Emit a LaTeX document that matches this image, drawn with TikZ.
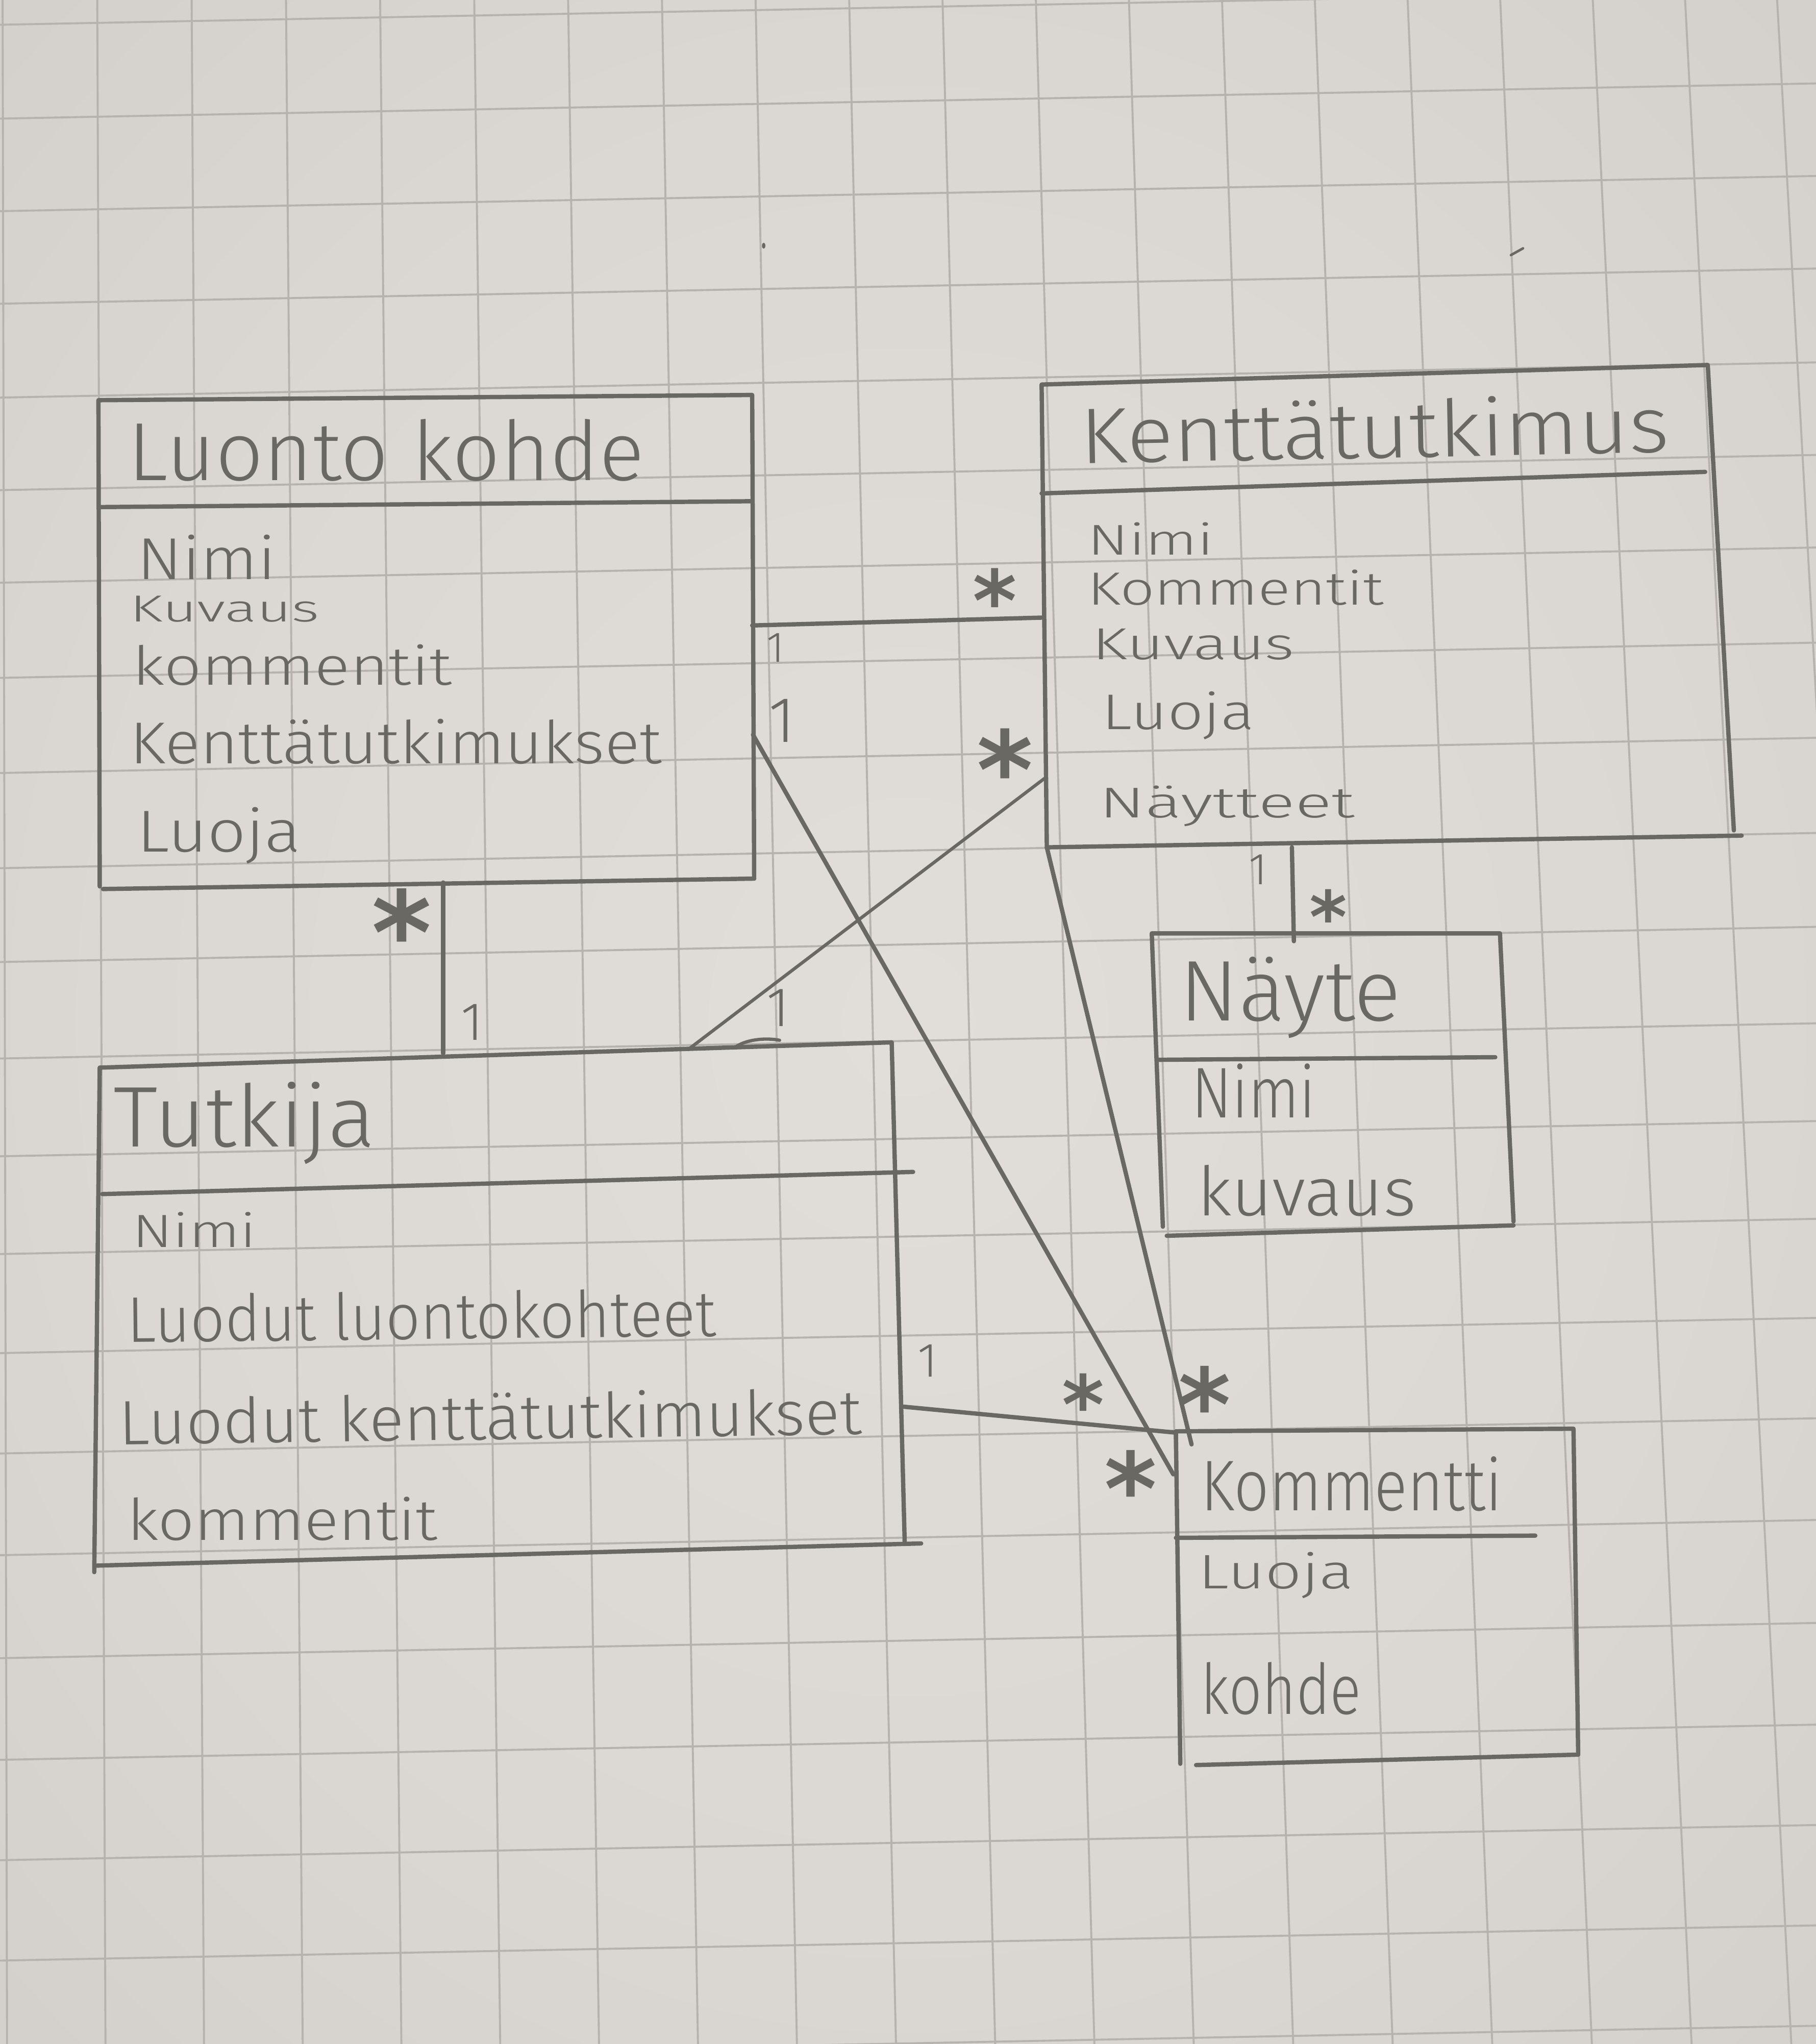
\documentclass[tikz,border=0pt]{standalone}
\usepackage{fontspec}
\usepackage{graphicx}
\setmainfont{Fira Sans Light}
\newfontfamily\starfont{DejaVu Sans}
\newlength\unitpx
\setlength\unitpx{0.02555cm}
\newcommand\hw[3]{\resizebox{#2\unitpx}{\height}{\fontsize{#1pt}{#1pt}\selectfont #3}}
\newcommand\mystar[1]{{\starfont\bfseries\fontsize{#1pt}{#1pt}\selectfont\raisebox{-0.51em}[0.19em][0.19em]{*}}}
\newcommand\myone[1]{{\fontsize{#1pt}{#1pt}\selectfont 1}}
\definecolor{paperA}{RGB}{225,222,218}
\definecolor{paperB}{RGB}{219,216,211}
\definecolor{paperC}{RGB}{208,204,200}
\definecolor{paperD}{RGB}{196,192,188}
\definecolor{gridc}{RGB}{182,178,174}
\definecolor{pencil}{RGB}{106,104,99}
\pgfdeclareradialshading{paperglow}{\pgfpoint{0bp}{0bp}}{color(0bp)=(paperA); color(22bp)=(paperB); color(42bp)=(paperC); color(70bp)=(paperD)}
\begin{document}
\begin{tikzpicture}[x=0.02555cm, y=-0.02555cm, line cap=round, line join=round,
  pen/.style={draw=pencil, line width=2.4pt},
  thinpen/.style={draw=pencil, line width=1.8pt},
  gridline/.style={draw=gridc, line width=1.1pt},
  txt/.style={inner sep=0pt, anchor=base west, text=pencil},
  mult/.style={inner sep=0pt, anchor=center, text=pencil}]

\useasboundingbox (0,0) rectangle (1393,1568);
\shade[shading=paperglow] (0,0) rectangle (1393,1568);

% graph paper grid
\foreach \xt/\xb in {2/5.4, 74.6/80.9, 147/156.5, 219.4/232.2, 291.6/307.9, 363.8/383.7,
  435.8/459.5, 507.8/535.4, 579.6/611.3, 651.4/687.3, 723/763.4, 794.6/839.5, 866/915.7,
  937.4/992, 1008.6/1068.3, 1079.8/1144.7, 1150.8/1221.1, 1221.8/1297.6, 1292.6/1374.1, 1363.2/1450.7}
  \draw[gridline] (\xt,0) -- (\xb,1568);
\foreach \yl in {19, 91, 162, 233, 305, 376, 447, 520, 593, 666, 738, 812, 887, 962, 1038,
  1115, 1193, 1272, 1350, 1427, 1504, 1581}
  \draw[gridline] (0,\yl) -- (1393,\yl-27);

% ---------- Luontokohde ----------
\coordinate (lkA) at (75.5,307);
\coordinate (lkB) at (577,303);
\coordinate (lkC) at (578.5,674);
\coordinate (lkD) at (76.5,680);
\coordinate (lkE) at (79,682);
\coordinate (lkS1) at (76,389);
\coordinate (lkS2) at (577,384.5);
\draw[pen] (lkD) -- (lkA) -- (lkB) -- (lkC);
\draw[pen] (lkE) -- (lkC);
\draw[pen] (lkS1) -- (lkS2);
\node[txt] (lkT) at (97.8,368.5) {\hw{46}{396}{Luonto kohde}};
\node[txt] (lk1) at (104.7,444.3) {\hw{33}{107}{Nimi}};
\node[txt] (lk2) at (99.5,477) {\hw{21}{145}{Kuvaus}};
\node[txt] (lk3) at (101.2,525.4) {\hw{30}{245}{kommentit}};
\node[txt] (lk4) at (99.5,585.6) {\hw{33}{408}{Kenttätutkimukset}};
\node[txt] (lk5) at (104.7,653.6) {\hw{33}{126}{Luoja}};

% ---------- Kenttätutkimus ----------
\coordinate (ktA) at (799,295);
\coordinate (ktB) at (1310,280);
\coordinate (ktC) at (1330,637);
\coordinate (ktD) at (803,650);
\coordinate (ktE) at (1336,641);
\coordinate (ktS1) at (799,378.5);
\coordinate (ktS2) at (1308,362);
\draw[pen] (ktD) -- (ktA) -- (ktB) -- (ktC);
\draw[pen] (ktD) -- (ktE);
\draw[pen] (ktS1) -- (ktS2);
\node[txt, rotate=1.1] (ktT) at (828.7,355.6) {\hw{44}{452}{Kenttätutkimus}};
\node[txt] (kt1) at (834,425.7) {\hw{24}{97}{Nimi}};
\node[txt] (kt2) at (834,464) {\hw{26}{227}{Kommentit}};
\node[txt] (kt3) at (837.7,506) {\hw{25}{155}{Kuvaus}};
\node[txt] (kt4) at (844.9,559.6) {\hw{28}{117}{Luoja}};
\node[txt] (kt5) at (843,627.3) {\hw{24}{196}{Näytteet}};

% ---------- Näyte ----------
\coordinate (nyA) at (883.5,716);
\coordinate (nyB) at (1150.6,716);
\coordinate (nyC) at (1161,937);
\coordinate (nyD) at (892,941);
\coordinate (nyE) at (895,948);
\coordinate (nyF) at (1161,940);
\coordinate (nyS1) at (888,813);
\coordinate (nyS2) at (1147,811);
\draw[pen] (nyD) -- (nyA) -- (nyB) -- (nyC);
\draw[pen] (nyE) -- (nyF);
\draw[pen] (nyS1) -- (nyS2);
\node[txt] (nyT) at (904.5,783.2) {\hw{48}{170}{Näyte}};
\node[txt] (ny1) at (914,857.4) {\hw{40}{95}{Nimi}};
\node[txt] (ny2) at (918,932.5) {\hw{38}{168}{kuvaus}};

% ---------- Tutkija ----------
\coordinate (tkA) at (76.5,819);
\coordinate (tkB) at (684,799.6);
\coordinate (tkC) at (694,1184);
\coordinate (tkD) at (72.3,1206);
\coordinate (tkE) at (74.4,1201);
\coordinate (tkF) at (706.6,1184);
\coordinate (tkS1) at (78.5,916);
\coordinate (tkS2) at (700.4,899);
\draw[pen] (tkD) -- (tkA) -- (tkB) -- (tkC);
\draw[pen] (tkE) -- (tkF);
\draw[pen] (tkS1) -- (tkS2);
\draw[thinpen] (563,804) .. controls (572,797) and (588,796) .. (598,798);
\node[txt] (tkT) at (86.8,879.6) {\hw{48}{201}{Tutkija}};
\node[txt] (tk1) at (101.3,956.8) {\hw{26}{95}{Nimi}};
\node[txt, rotate=0.6] (tk2) at (97.2,1029.7) {\hw{36}{452}{Luodut luontokohteet}};
\node[txt, rotate=0.8] (tk3) at (91,1108.3) {\hw{35}{570}{Luodut kenttätutkimukset}};
\node[txt] (tk4) at (97.2,1181.3) {\hw{32}{238}{kommentit}};

% ---------- Kommentti ----------
\coordinate (kmA) at (902,1098);
\coordinate (kmB) at (1207,1096);
\coordinate (kmC) at (1210.6,1346);
\coordinate (kmD) at (905.4,1353);
\coordinate (kmE) at (917.5,1354);
\coordinate (kmS1) at (902,1179.7);
\coordinate (kmS2) at (1177.7,1178);
\draw[pen] (kmD) -- (kmA) -- (kmB) -- (kmC);
\draw[pen] (kmE) -- (kmC);
\draw[pen] (kmS1) -- (kmS2);
\node[txt] (kmT) at (921,1158.6) {\hw{40}{231}{Kommentti}};
\node[txt] (km1) at (919,1218.8) {\hw{27}{119}{Luoja}};
\node[txt] (km2) at (921,1314.8) {\hw{39}{123}{kohde}};

% ---------- connectors ----------
\coordinate (c1a) at (577,479.8);   \coordinate (c1b) at (799,473.8);
\coordinate (c2a) at (340,677);     \coordinate (c2b) at (340,808);
\coordinate (c3a) at (801,597.3);   \coordinate (c3b) at (528,805);
\coordinate (c4a) at (577.6,563.6); \coordinate (c4b) at (900,1131);
\coordinate (c5a) at (803,650);     \coordinate (c5b) at (914,1108);
\coordinate (c6a) at (692,1079);    \coordinate (c6b) at (902,1099);
\coordinate (c7a) at (991,650);     \coordinate (c7b) at (992.5,722);
\draw[pen] (c1a) -- (c1b);
\draw[pen] (c2a) -- (c2b);
\draw[thinpen] (c3a) -- (c3b);
\draw[pen] (c4a) -- (c4b);
\draw[pen] (c5a) -- (c5b);
\draw[pen] (c6a) -- (c6b);
\draw[pen] (c7a) -- (c7b);

% ---------- multiplicities ----------
\node[mult] (m1) at (595,497) {\myone{24}};
\node[mult] (m2) at (600,553) {\myone{36}};
\node[mult] (m3) at (362,784) {\myone{30}};
\node[mult] (m4) at (597,773) {\myone{31}};
\node[mult] (m5) at (965,667) {\myone{25}};
\node[mult] (m6) at (711.6,1044) {\myone{27}};
\node[mult] (s1) at (763,451) {\mystar{47}};
\node[mult] (s2) at (771,578) {\mystar{60}};
\node[mult] (s3) at (308,702) {\mystar{64}};
\node[mult] (s4) at (1019,695) {\mystar{40}};
\node[mult] (s5) at (831,1068) {\mystar{45}};
\node[mult] (s6) at (924,1066) {\mystar{56}};
\node[mult] (s7) at (867.5,1130.5) {\mystar{56}};

% pencil specks
\fill[pencil] (585.8,188.5) ellipse [x radius=1.3, y radius=2.3];
\draw[pencil, line width=1.4pt] (1159,195.7) -- (1168.3,190.5);
\end{tikzpicture}
\end{document}
